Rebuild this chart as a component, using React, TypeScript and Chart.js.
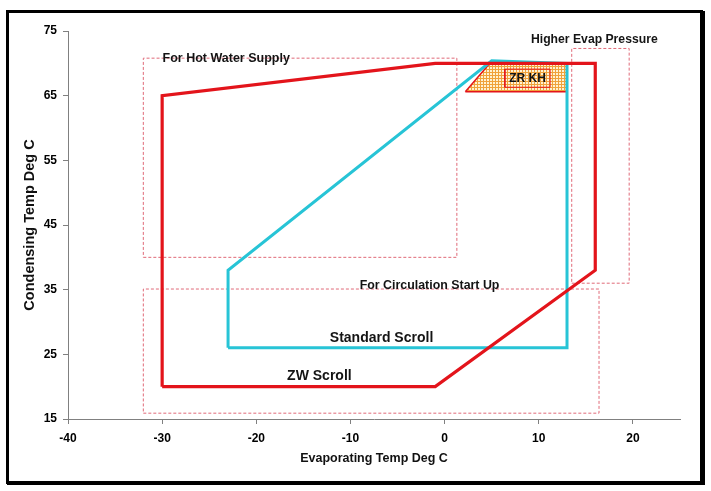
import React, { useEffect, useRef } from "react";
import { Chart, registerables } from "chart.js";

Chart.register(...registerables);

// ---- data ----
const xTickValues = [-40, -30, -20, -10, 0, 10, 20];
const yTickValues = [15, 25, 35, 45, 55, 65, 75];

const zwScrollX = [-30, -1, 16, 16, -1, -30, -30];
const zwScrollY = [20, 20, 38, 70, 70, 65, 20];

const standardScrollX = [-23, 13, 13, 5, -23, -23];
const standardScrollY = [26, 26, 70, 70.4, 38, 26];

const zrKhX = [2.2, 13, 13, 4.8, 2.2];
const zrKhY = [65.6, 65.6, 70, 70, 65.6];

const zrKhBoxX = [6.4, 11.2];
const zrKhBoxY = [66.3, 69.1];

const hotWaterBoxX = [-32, 1.3];
const hotWaterBoxY = [40, 70.8];

const evapPressureBoxX = [13.5, 19.6];
const evapPressureBoxY = [36, 72.3];

const circulationBoxX = [-32, 16.4];
const circulationBoxY = [15.9, 35.1];

const labelTexts = [
  "For Hot Water Supply",
  "Higher Evap Pressure",
  "For Circulation Start Up",
  "Standard Scroll",
  "ZW Scroll",
  "ZR KH",
];
const labelX = [-23.2, 15.9, -1.6, -6.7, -13.3, 8.8];
const labelY = [70.7, 73.6, 35.6, 27.5, 21.6, 67.7];

// ---- helpers ----
const toPoints = (xs: number[], ys: number[]) => xs.map((x, i) => ({ x, y: ys[i] }));
const rectPoints = (xs: number[], ys: number[]) => [
  { x: xs[0], y: ys[0] },
  { x: xs[1], y: ys[0] },
  { x: xs[1], y: ys[1] },
  { x: xs[0], y: ys[1] },
  { x: xs[0], y: ys[0] },
];

const FONT = "'Liberation Sans', Arial, Helvetica, sans-serif";
const RED = "#e3141b";
const CYAN = "#27c4d6";
const DASH_RED = "#e06a78";

function makePattern(): CanvasPattern | string {
  const c = document.createElement("canvas");
  c.width = 3;
  c.height = 3;
  const g = c.getContext("2d");
  if (!g) return "#f8d9a0";
  g.fillStyle = "#fff2d2";
  g.fillRect(0, 0, 3, 3);
  g.fillStyle = "#f0a23c";
  g.fillRect(0, 0, 3, 1);
  g.fillRect(0, 0, 1, 3);
  const p = g.createPattern(c, "repeat");
  return p || "#f8d9a0";
}

const labelsPlugin = {
  id: "textLabels",
  afterDatasetsDraw(chart: any) {
    const { ctx, scales } = chart;
    const fonts = [
      `bold 12.5px ${FONT}`,
      `bold 12.2px ${FONT}`,
      `bold 12.4px ${FONT}`,
      `bold 14px ${FONT}`,
      `bold 14px ${FONT}`,
      `bold 12px ${FONT}`,
    ];
    ctx.save();
    ctx.fillStyle = "#141414";
    ctx.textAlign = "center";
    ctx.textBaseline = "middle";
    labelTexts.forEach((t, i) => {
      ctx.font = fonts[i];
      ctx.fillText(t, scales.x.getPixelForValue(labelX[i]), scales.y.getPixelForValue(labelY[i]));
    });
    ctx.restore();
  },
};

const framePlugin = {
  id: "frame",
  afterDraw(chart: any) {
    const { ctx } = chart;
    ctx.save();
    ctx.strokeStyle = "#000";
    ctx.lineWidth = 3;
    ctx.strokeRect(7.5, 11.5, 694, 471);
    ctx.fillStyle = "#000";
    ctx.fillRect(703, 11, 2, 474);
    ctx.fillRect(7, 483, 698, 2);
    ctx.restore();
  },
};

export default function App() {
  const ref = useRef<HTMLCanvasElement | null>(null);

  useEffect(() => {
    document.body.style.margin = "0";
    if (!ref.current) return;
    const pattern = makePattern();

    const dashed = (xs: number[], ys: number[]) => ({
      data: rectPoints(xs, ys),
      showLine: true,
      borderColor: DASH_RED,
      borderWidth: 1,
      borderDash: [3, 2],
      pointRadius: 0,
      fill: false,
    });

    const chart = new Chart(ref.current, {
      type: "scatter",
      data: {
        datasets: [
          {
            data: toPoints(zwScrollX, zwScrollY),
            showLine: true,
            borderColor: RED,
            borderWidth: 3.2,
            borderJoinStyle: "miter",
            pointRadius: 0,
            fill: false,
          },
          {
            data: toPoints(standardScrollX, standardScrollY),
            showLine: true,
            borderColor: CYAN,
            borderWidth: 3,
            borderJoinStyle: "miter",
            pointRadius: 0,
            fill: false,
          },
          {
            data: rectPoints(zrKhBoxX, zrKhBoxY),
            showLine: true,
            borderColor: RED,
            borderWidth: 1,
            pointRadius: 0,
            fill: false,
          },
          {
            data: toPoints(zrKhX, zrKhY),
            showLine: true,
            borderColor: RED,
            borderWidth: 1.5,
            pointRadius: 0,
            backgroundColor: pattern as any,
            fill: "shape",
          },
          dashed(hotWaterBoxX, hotWaterBoxY),
          dashed(evapPressureBoxX, evapPressureBoxY),
          dashed(circulationBoxX, circulationBoxY),
        ] as any,
      },
      options: {
        animation: false,
        responsive: false,
        devicePixelRatio: 1,
        events: [],
        layout: { padding: { left: 0, top: 31, right: 31, bottom: 0 } },
        plugins: { legend: { display: false }, tooltip: { enabled: false } },
        scales: {
          x: {
            type: "linear",
            min: -40,
            max: 25,
            afterBuildTicks: (s: any) => {
              s.ticks = xTickValues.map((v) => ({ value: v }));
            },
            afterFit: (s: any) => {
              s.height = 72;
            },
            grid: { drawOnChartArea: false, drawTicks: true, tickLength: 5, color: "#808080" },
            border: { display: true, color: "#808080", width: 1 },
            ticks: {
              color: "#000",
              padding: 7,
              font: { family: FONT, size: 12, weight: "bold" },
            },
            title: {
              display: true,
              text: "Evaporating Temp Deg C",
              color: "#111",
              font: { family: FONT, size: 12.5, weight: "bold" },
              padding: { top: 0, bottom: 25 },
            },
          },
          y: {
            type: "linear",
            min: 15,
            max: 75,
            afterBuildTicks: (s: any) => {
              s.ticks = yTickValues.map((v) => ({ value: v }));
            },
            afterFit: (s: any) => {
              s.width = 68;
            },
            grid: { drawOnChartArea: false, drawTicks: true, tickLength: 5, color: "#808080" },
            border: { display: true, color: "#808080", width: 1 },
            ticks: {
              color: "#000",
              padding: 6,
              font: { family: FONT, size: 12, weight: "bold" },
            },
            title: {
              display: true,
              text: "Condensing Temp Deg C",
              color: "#111",
              font: { family: FONT, size: 14.5, weight: "bold" },
              padding: { top: 21, bottom: 0 },
            },
          },
        },
      } as any,
      plugins: [labelsPlugin, framePlugin],
    });

    return () => chart.destroy();
  }, []);

  return (
    <div style={{ width: 711, height: 491 }}>
      <canvas ref={ref} width={711} height={491} style={{ display: "block" }} />
    </div>
  );
}
